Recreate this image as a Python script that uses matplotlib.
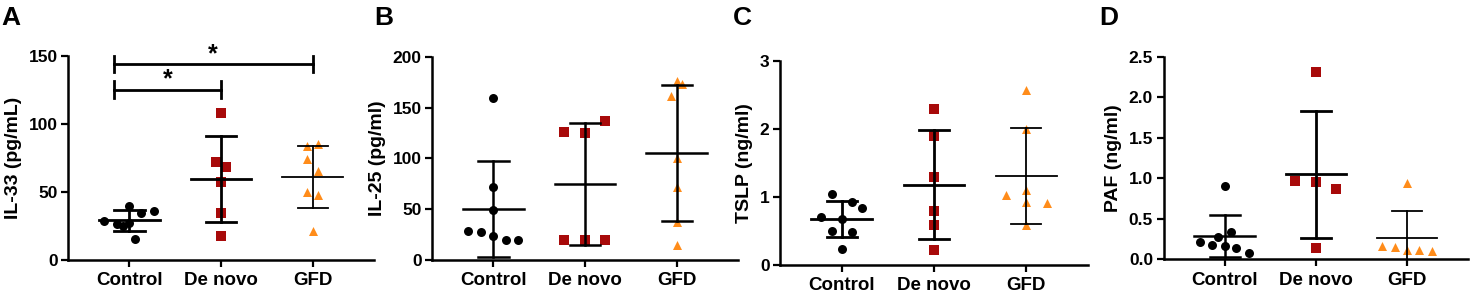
import numpy as np
import matplotlib.pyplot as plt

plt.rcParams['font.family'] = ['Liberation Sans', 'DejaVu Sans']
plt.rcParams['font.weight'] = 'bold'

groups = ['Control', 'De novo', 'GFD']
colors = ['black', '#a80a0a', '#ff8c1a']
markers = ['o', 's', '^']

# IL-33 (pg/mL)
il33_control = [28.6, 26.6, 24.4, 26.8, 39.2, 34.7, 35.7, 15.3]
il33_denovo = [108.1, 72.2, 68.7, 57.6, 34.7, 17.0]
il33_gfd = [83.5, 85.0, 74.1, 65.3, 50.0, 47.5, 21.4]
il33_jit = [[-0.28, -0.14, -0.07, 0, 0, 0.13, 0.27, 0.06],
            [0, -0.055, 0.06, 0, 0, 0],
            [-0.06, 0.055, -0.06, 0.055, -0.06, 0.055, 0]]

# IL-25 (pg/ml)
il25_control = [159.2, 71.7, 49.0, 28.6, 27.0, 23.7, 19.4, 19.4]
il25_denovo = [126.3, 125.0, 136.5, 19.4, 19.4, 19.4]
il25_gfd = [176.6, 173.3, 161.5, 100.0, 71.4, 36.8, 14.1]
il25_jit = [[0, 0, 0, -0.28, -0.14, 0, 0.135, 0.27],
            [-0.23, 0, 0.22, -0.23, 0, 0.22],
            [0, 0.06, -0.06, 0, 0, 0, 0]]

# TSLP (ng/ml)
tslp_control = [1.04, 0.93, 0.84, 0.71, 0.68, 0.50, 0.48, 0.24]
tslp_denovo = [2.30, 1.89, 1.29, 0.79, 0.59, 0.22]
tslp_gfd = [2.57, 2.00, 1.03, 1.11, 0.93, 0.91, 0.59]
tslp_jit = [[-0.11, 0.11, 0.22, -0.23, 0, -0.11, 0.11, 0],
            [0, 0, 0, 0, 0, 0],
            [0, 0, -0.22, 0, 0, 0.23, 0]]

# PAF (ng/ml)
paf_control = [0.90, 0.34, 0.27, 0.21, 0.18, 0.16, 0.14, 0.08]
paf_denovo = [2.31, 0.97, 0.95, 0.87, 0.14]
paf_gfd = [0.94, 0.17, 0.155, 0.115, 0.115, 0.106]
paf_jit = [[0, 0.065, -0.07, -0.27, -0.135, 0, 0.13, 0.27],
           [0, -0.23, 0, 0.22, 0],
           [0, -0.27, -0.13, 0, 0.13, 0.27]]

# significance brackets in panel A: (from group, to group, height)
sig_pairs = [(0, 1, 125.6), (0, 2, 144.3)]

panels = [
    ('A', 'IL-33 (pg/mL)', [il33_control, il33_denovo, il33_gfd], il33_jit,
     [0, 50, 100, 150], [68, 56.5, 374, 259.5], [2.0, 2.0, 1.3]),
    ('B', 'IL-25 (pg/ml)', [il25_control, il25_denovo, il25_gfd], il25_jit,
     [0, 50, 100, 150, 200], [432, 57, 738, 259.5], [1.8, 1.8, 1.8]),
    ('C', 'TSLP (ng/ml)', [tslp_control, tslp_denovo, tslp_gfd], tslp_jit,
     [0, 1, 2, 3], [780, 61, 1088, 265], [2.0, 2.0, 1.3]),
    ('D', 'PAF (ng/ml)', [paf_control, paf_denovo, paf_gfd], paf_jit,
     [0.0, 0.5, 1.0, 1.5, 2.0, 2.5], [1163.5, 56.7, 1468, 259.3], [1.8, 2.0, 1.3]),
]
letter_x = [1, 374, 733, 1099]

W, H = 1470, 292
fig = plt.figure(figsize=(W / 100, H / 100), dpi=100)

for (letter, ylab, data, jit, yt, box, lws), lx in zip(panels, letter_x):
    x0, y0, x1, y1 = box
    ax = fig.add_axes([x0 / W, 1 - y1 / H, (x1 - x0) / W, (y1 - y0) / H])
    for i, vals in enumerate(data):
        vals = np.array(vals)
        xs = i + 1 + np.array(jit[i])
        m = vals.mean()
        sd = vals.std(ddof=1)
        ax.scatter(xs, vals, s=42, marker=markers[i], color=colors[i],
                   zorder=3, clip_on=False, linewidths=0)
        lw = lws[i]
        ax.plot([i + 1 - 0.33, i + 1 + 0.33], [m, m], color='black', lw=lw, zorder=4)
        ax.plot([i + 1, i + 1], [m - sd, m + sd], color='black', lw=lw, zorder=4)
        for v in (m - sd, m + sd):
            ax.plot([i + 1 - 0.165, i + 1 + 0.165], [v, v], color='black', lw=lw, zorder=4)
    ax.set_xlim(0.33, 3.67)
    ax.set_ylim(yt[0], yt[-1])
    ax.set_yticks(yt)
    if letter == 'D':
        ax.set_yticklabels(['%.1f' % t for t in yt])
    ax.set_xticks([1, 2, 3])
    ax.set_xticklabels(groups, fontsize=13.5, fontweight='bold')
    ax.tick_params(axis='y', labelsize=12.5, width=1.6, length=5, pad=2.5)
    ax.tick_params(axis='x', width=1.6, length=5, pad=4)
    for s in ('top', 'right'):
        ax.spines[s].set_visible(False)
    for s in ('left', 'bottom'):
        ax.spines[s].set_linewidth(1.8)
    ax.set_ylabel(ylab, fontsize=14, fontweight='bold', labelpad=5)
    fig.text(lx / W, 1 - 25 / H, letter, fontsize=19, fontweight='bold',
             ha='left', va='baseline')

    if letter == 'A':
        for a, b, y in sig_pairs:
            xa, xb = a + 1 - 0.17, b + 1
            ax.plot([xa, xb], [y, y], color='black', lw=2, clip_on=False)
            for xx in (xa, xb):
                ax.plot([xx, xx], [y - 6, y + 6], color='black', lw=2, clip_on=False)
            ax.text((xa + xb) / 2, y - 1.5, '*', ha='center', va='bottom',
                    fontsize=18, fontweight='bold')

fig.savefig('out.png', dpi=100)
